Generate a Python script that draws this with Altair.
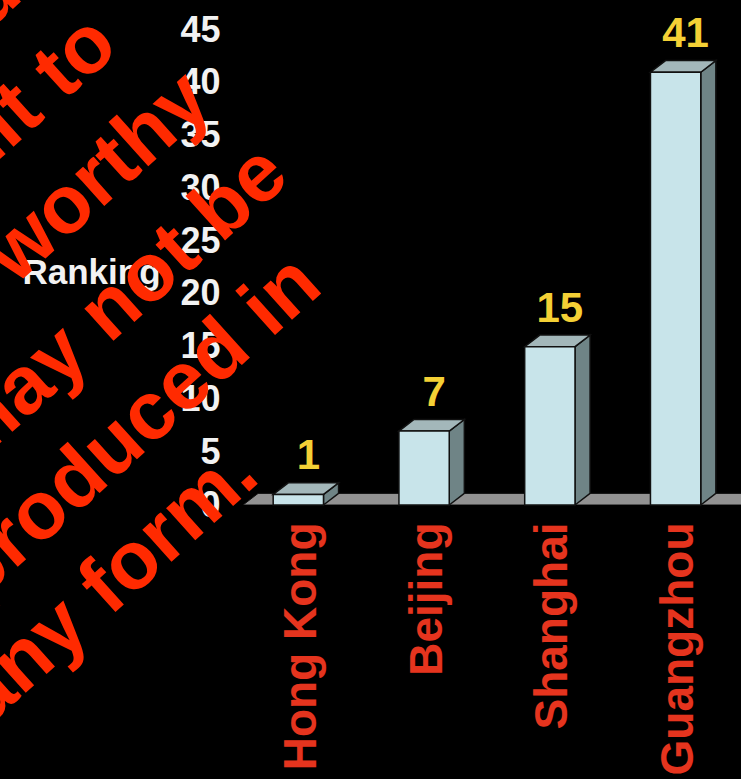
import json
import altair as alt
import pandas as pd

# ---------------- data ----------------
cities = ["Hong Kong", "Beijing", "Shanghai", "Guangzhou"]
ranks = [1, 7, 15, 41]
y_ticks = [0, 5, 10, 15, 20, 25, 30, 35, 40, 45]
y_title = "Ranking"
watermark_lines = [
    "Copyright protected",
    "Permission to submit to",
    "deemed worthy",
    "sources may not be",
    "reproduced in",
    "any form.",
]

# ---------------- geometry / style ----------------
HALF = 0.2      # half width of a bar's front face (category units)
DX = 0.12       # 3-D depth, x (category units)
DY = 1.1        # 3-D depth, y (ranking units)
X_MIN, X_MAX = -0.44, 3.52
FONT = "Liberation Sans"
FRONT = "#c8e4ea"
TOP = "#a3b7ba"
SIDE = "#6f8486"
EDGE = "#111111"
FLOOR = "#929292"
YELLOW = "#f4d035"
RED_LABEL = "#e5341e"
RED_WM = "#ff2a00"

idx = list(range(len(cities)))
front = pd.DataFrame({"city": cities, "rank": ranks, "i": idx})
front["x0"] = front["i"] - HALF
front["x1"] = front["i"] + HALF
front["y0"] = 0
front["lx"] = front["i"]

side_rows, top_rows = [], []
for i, c, v in zip(idx, cities, ranks):
    side_rows += [
        dict(city=c, px=i + HALF, lo=0, hi=v),
        dict(city=c, px=i + HALF + DX, lo=DY, hi=v + DY),
    ]
    top_rows += [
        dict(city=c, px=i - HALF, lo=v, hi=v),
        dict(city=c, px=i - HALF + DX, lo=v, hi=v + DY),
        dict(city=c, px=i + HALF, lo=v, hi=v + DY),
        dict(city=c, px=i + HALF + DX, lo=v + DY, hi=v + DY),
    ]
side = pd.DataFrame(side_rows)
top = pd.DataFrame(top_rows)
floor = pd.DataFrame([
    dict(city="floor", px=X_MIN, lo=0, hi=0),
    dict(city="floor", px=X_MIN + DX, lo=0, hi=DY),
    dict(city="floor", px=X_MAX + 0.5, lo=0, hi=DY),
])

xscale = alt.Scale(domain=[X_MIN, X_MAX], nice=False, zero=False)
yscale = alt.Scale(domain=[0, 45], nice=False)

label_expr = json.dumps(cities) + "[datum.value]"
xaxis = alt.Axis(
    values=idx, labelExpr=label_expr, title=None,
    labelAngle=270, labelAlign="right", labelBaseline="middle",
    labelPadding=17, labelOffset=3, labelFont=FONT, labelFontSize=46,
    labelFontWeight="bold", labelColor=RED_LABEL, labelLimit=1000,
    ticks=False, domain=False, grid=False, labelFlush=False,
    labelOverlap=False, labelBound=False,
)
yaxis = alt.Axis(
    values=y_ticks, title=y_title, titleAngle=0, titleX=-152, titleY=242,
    titleAlign="center", titleBaseline="middle", titleFont=FONT,
    titleFontSize=35, titleFontWeight="bold", titleColor="#f2f2f2",
    labelFont=FONT, labelFontSize=36, labelFontWeight="bold",
    labelColor="#f2f2f2", labelPadding=23, ticks=False, tickSize=0,
    domain=False, grid=False, labelFlush=False, labelOverlap=False,
    labelBound=False,
)


def X(field):
    return alt.X(field, type="quantitative", scale=xscale, axis=xaxis)


def Y(field):
    return alt.Y(field, type="quantitative", scale=yscale, axis=yaxis)


floor_layer = alt.Chart(floor).mark_area(
    orient="vertical", color=FLOOR, opacity=1, clip=True,
    stroke=EDGE, strokeWidth=1
).encode(x=X("px"), y=Y("lo"), y2="hi", detail="city:N")

side_layer = alt.Chart(side).mark_area(
    orient="vertical", color=SIDE, opacity=1, stroke=EDGE, strokeWidth=1.5
).encode(x=X("px"), y=Y("lo"), y2="hi", detail="city:N")

top_layer = alt.Chart(top).mark_area(
    orient="vertical", color=TOP, opacity=1, stroke=EDGE, strokeWidth=1.5
).encode(x=X("px"), y=Y("lo"), y2="hi", detail="city:N")

front_layer = alt.Chart(front).mark_rect(
    color=FRONT, stroke=EDGE, strokeWidth=1.5
).encode(x=X("x0"), x2="x1", y=Y("y0"), y2="rank")

value_layer = alt.Chart(front).mark_text(
    font=FONT, fontSize=42, fontWeight="bold", color=YELLOW,
    align="center", baseline="alphabetic", dx=10, dy=-25
).encode(x=X("lx"), y=Y("rank"), text="rank:Q")

# watermark line end points (pixels, relative to plot origin)
wm_pos = [(-218, -32), (-122, 20), (-28, 76), (49, 150), (82, 260), (19, 450)]
wm_layers = []
for line, (px, py) in zip(watermark_lines, wm_pos):
    wm_layers.append(
        alt.Chart(pd.DataFrame({"t": [line]})).mark_text(
            x=px, y=py, angle=318, align="right", baseline="alphabetic",
            font=FONT, fontSize=82, fontWeight="bold", color=RED_WM
        ).encode(text="t:N")
    )

chart = alt.layer(
    floor_layer, side_layer, top_layer, front_layer, value_layer, *wm_layers
).properties(
    width=498, height=475,
    autosize=alt.AutoSizeParams(type="none"),
    padding={"left": 243, "top": 30, "right": 0, "bottom": 274},
    background="#000000",
).configure_view(strokeOpacity=0)

chart.save("out.html", embed_options={"renderer": "svg", "actions": False})
